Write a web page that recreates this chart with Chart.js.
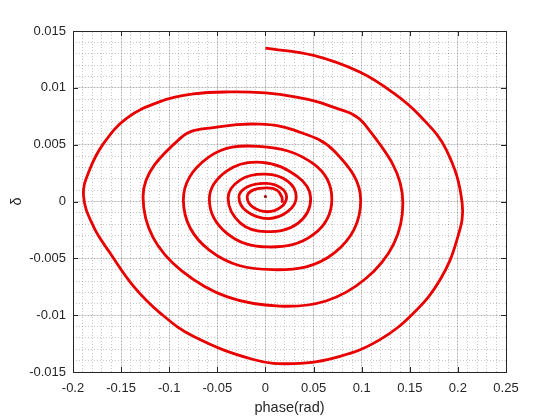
<!DOCTYPE html>
<html>
<head>
<meta charset="utf-8">
<script src="https://cdn.jsdelivr.net/npm/chart.js@4.4.1/dist/chart.umd.min.js"></script>
<style>
  body { margin: 0; background: #fff; }
</style>
</head>
<body>
<canvas id="spiral-chart" width="560" height="420"></canvas>
<script>
// trajectory in the phase plane: start at the top, clockwise inward.
// outer turn read densely, inner turns about one point per eighth of a turn
const phase = [
  0, 0.05, 0.098, 0.133, 0.161, 0.188, 0.2045, 0.199, 0.1815, 0.154, 0.119, 0.0775, 0.029, -0.0126, -0.075,
  -0.1096, -0.137, -0.1615, -0.1788, -0.1891, -0.1827, -0.168, -0.144, -0.1096, -0.075, -0.0368, 0, 0.029,
  0.0637, 0.103, 0.1428, 0.104, 0.015, -0.087, -0.1272, -0.088, -0.045,
  -0.0056, 0.029, 0.072, 0.099, 0.072, 0.008, -0.058, -0.0853, -0.059,
  -0.007, 0.050, 0.069, 0.050, 0.003, -0.040, -0.0583, -0.040,
  -0.004, 0.033, 0.047, 0.034, 0.001, -0.026, -0.0388, -0.026,
  0, 0.023, 0.032, 0.023, 0.003, -0.019, -0.0275, -0.0185,
  0.001, 0.016, 0.022, 0.016, 0.002, -0.013, -0.019, -0.013,
  0.002, 0.012, 0.017, 0.0175
];
const delta = [
  0.0135, 0.01285, 0.01139, 0.00955, 0.0075, 0.00454, -0.0002, -0.00337, -0.00688, -0.0098, -0.01215, -0.01362, -0.01426, -0.0139, -0.01186,
  -0.0098, -0.00747, -0.00453, -0.00219, 0.00054, 0.00279, 0.00513, 0.00733, 0.00879, 0.00946, 0.00964, 0.00955, 0.00923,
  0.0085, 0.0068, -0.0001, -0.0068, -0.0092, -0.0061, 0.0004, 0.0056, 0.0066,
  0.0068, 0.0063, 0.0044, 0.0001, -0.0045, -0.0060, -0.0043, 0.0001, 0.0039,
  0.00485, 0.0033, 0.0002, -0.0029, -0.0040, -0.0028, 0.0002, 0.0027,
  0.00345, 0.0022, 0.0003, -0.0019, -0.00265, -0.0019, 0.0003, 0.0019,
  0.0024, 0.0018, 0.0004, -0.0009, -0.0015, -0.0009, 0.0004, 0.0013,
  0.0016, 0.0012, 0.0004, -0.0005, -0.0009, -0.0005, 0.0004, 0.0010,
  0.0012, 0.0010, 0.0004, -0.0001
];
// equilibrium point
const eqPhase = [0];
const eqDelta = [0.00044];

const xTicks = [-0.2, -0.15, -0.1, -0.05, 0, 0.05, 0.1, 0.15, 0.2, 0.25];
const yTicks = [-0.015, -0.01, -0.005, 0, 0.005, 0.01, 0.015];

const axisColor = '#262626';
const labelFont = { family: 'Liberation Sans, Arial, sans-serif', size: 13 };
const fmt = v => String(Number(v.toFixed(4)));

// minor grid every 0.01 (x) and 0.001 (y)
function minorTicks(scale, step) {
  const out = [];
  const n = Math.round((scale.max - scale.min) / step);
  for (let i = 0; i <= n; i++) out.push({ value: scale.min + i * step });
  scale.ticks = out;
}

// MATLAB style ticks pointing into the box on all four sides
const inwardTicks = {
  id: 'inwardTicks',
  beforeDatasetsDraw(chart) {
    const { ctx, chartArea: a, scales } = chart;
    const len = 5;
    ctx.save();
    ctx.strokeStyle = axisColor;
    ctx.lineWidth = 1;
    ctx.beginPath();
    scales.x.ticks.forEach(t => {
      const px = Math.round(scales.x.getPixelForValue(t.value)) + 0.5;
      ctx.moveTo(px, a.bottom); ctx.lineTo(px, a.bottom - len);
      ctx.moveTo(px, a.top); ctx.lineTo(px, a.top + len);
    });
    scales.y.ticks.forEach(t => {
      const py = Math.round(scales.y.getPixelForValue(t.value)) + 0.5;
      ctx.moveTo(a.left, py); ctx.lineTo(a.left + len, py);
      ctx.moveTo(a.right, py); ctx.lineTo(a.right - len, py);
    });
    ctx.stroke();
    ctx.restore();
  }
};

new Chart(document.getElementById('spiral-chart'), {
  type: 'scatter',
  data: {
    datasets: [
      {
        data: phase.map((p, i) => ({ x: p, y: delta[i] })),
        showLine: true,
        borderColor: '#e80000',
        borderWidth: 2.8,
        pointRadius: 0,
        tension: 0.4
      },
      {
        data: eqPhase.map((p, i) => ({ x: p, y: eqDelta[i] })),
        pointRadius: 1.6,
        backgroundColor: '#a00000',
        borderWidth: 0
      }
    ]
  },
  options: {
    responsive: false,
    animation: false,
    devicePixelRatio: 1,
    layout: { padding: { left: 0, right: 54, top: 31, bottom: 0 } },
    plugins: { legend: { display: false }, tooltip: { enabled: false } },
    scales: {
      x: {
        type: 'linear', position: 'bottom', min: -0.2, max: 0.25,
        afterBuildTicks: s => { s.ticks = xTicks.map(v => ({ value: v })); },
        afterFit: s => { s.height = 48; },
        ticks: { padding: 9, color: axisColor, font: labelFont, callback: fmt, maxRotation: 0, autoSkip: false },
        grid: { color: 'rgba(38,38,38,0.15)', drawTicks: false },
        border: { color: axisColor },
        title: {
          display: true, text: 'phase(rad)', color: axisColor,
          font: { family: 'Liberation Sans, Arial, sans-serif', size: 14.5 },
          padding: { top: 0, bottom: 3 }
        }
      },
      y: {
        type: 'linear', position: 'left', min: -0.015, max: 0.015,
        afterBuildTicks: s => { s.ticks = yTicks.map(v => ({ value: v })); },
        afterFit: s => { s.width = 73; },
        ticks: { padding: 7, color: axisColor, font: labelFont, callback: fmt, autoSkip: false },
        grid: { color: 'rgba(38,38,38,0.15)', drawTicks: false },
        border: { color: axisColor },
        title: {
          display: true, text: 'δ', color: axisColor,
          font: { family: 'Liberation Sans, Arial, sans-serif', size: 14.5 },
          padding: { top: 8, bottom: 0 }
        }
      },
      x2: {
        type: 'linear', position: 'top', min: -0.2, max: 0.25,
        afterBuildTicks: s => minorTicks(s, 0.01),
        afterFit: s => { s.height = 0; },
        ticks: { display: false },
        grid: { color: 'rgba(38,38,38,0.25)', drawTicks: false },
        border: { color: axisColor, dash: [1, 2] }
      },
      y2: {
        type: 'linear', position: 'right', min: -0.015, max: 0.015,
        afterBuildTicks: s => minorTicks(s, 0.001),
        afterFit: s => { s.width = 0; },
        ticks: { display: false },
        grid: { color: 'rgba(38,38,38,0.25)', drawTicks: false },
        border: { color: axisColor, dash: [1, 2] }
      }
    }
  },
  plugins: [inwardTicks]
});
</script>
</body>
</html>
